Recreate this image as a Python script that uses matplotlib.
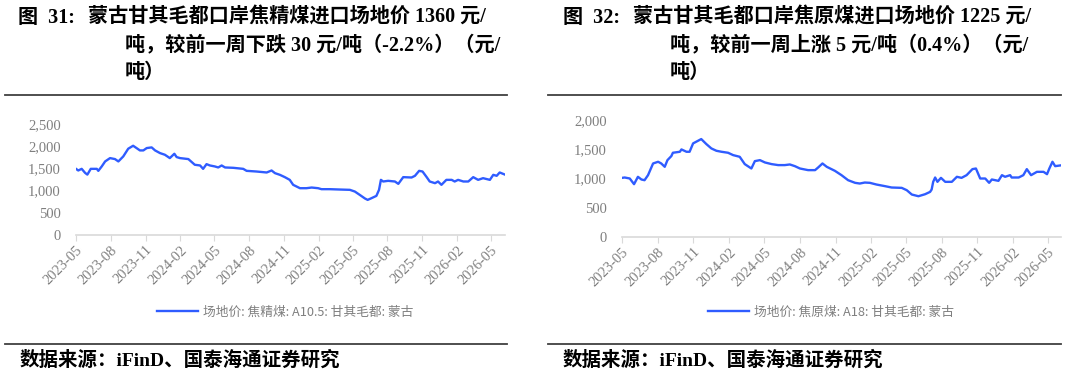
import pandas as pd
import matplotlib.pyplot as plt
import matplotlib.dates as mdates
from matplotlib.lines import Line2D
from matplotlib.ticker import FuncFormatter

plt.rcParams['font.family'] = ['Liberation Serif', 'Noto Sans CJK SC']

# 焦精煤 A10.5 (left panel)
coking_dates = [
    "2023-05-01", "2023-05-07", "2023-05-16", "2023-05-25", "2023-05-31", "2023-06-09",
    "2023-06-25", "2023-06-29", "2023-07-08", "2023-07-17", "2023-07-30", "2023-08-12",
    "2023-08-21", "2023-09-03", "2023-09-16", "2023-09-29", "2023-10-08", "2023-10-17",
    "2023-10-26", "2023-11-04", "2023-11-17", "2023-11-26", "2023-12-09", "2023-12-22",
    "2024-01-04", "2024-01-16", "2024-01-22", "2024-01-31", "2024-02-22", "2024-03-10",
    "2024-03-24", "2024-04-01", "2024-04-10", "2024-04-19", "2024-05-02", "2024-05-11",
    "2024-05-20", "2024-05-29", "2024-06-20", "2024-07-16", "2024-07-25", "2024-08-20",
    "2024-09-16", "2024-09-29", "2024-10-08", "2024-10-21", "2024-11-03", "2024-11-16",
    "2024-11-25", "2024-12-13", "2024-12-30", "2025-01-13", "2025-01-30", "2025-02-08",
    "2025-03-02", "2025-03-29", "2025-04-24", "2025-05-07", "2025-05-20", "2025-06-03",
    "2025-06-10", "2025-06-20", "2025-07-03", "2025-07-10", "2025-07-15", "2025-07-21",
    "2025-08-03", "2025-08-21", "2025-08-30", "2025-09-12", "2025-10-04", "2025-10-13",
    "2025-10-24", "2025-11-02", "2025-11-13", "2025-11-21", "2025-12-05", "2025-12-13",
    "2025-12-22", "2026-01-04", "2026-01-18", "2026-01-26", "2026-02-04", "2026-02-18",
    "2026-03-03", "2026-03-16", "2026-03-29", "2026-04-11", "2026-04-29", "2026-05-08",
    "2026-05-17", "2026-05-25", "2026-06-08",
]
coking_price = [
    1490, 1453, 1490, 1400, 1360, 1490,
    1490, 1445, 1544, 1657, 1732, 1710,
    1657, 1770, 1943, 2010, 1958, 1905,
    1905, 1958, 1973, 1905, 1845, 1807,
    1732, 1830, 1755, 1732, 1710, 1582,
    1566, 1490, 1596, 1566, 1544, 1521,
    1566, 1521, 1513, 1490, 1445, 1430,
    1408, 1453, 1393, 1355, 1303, 1242,
    1130, 1054, 1054, 1069, 1054, 1032,
    1032, 1024, 1017, 979, 904, 821,
    791, 829, 881, 1017, 1242, 1205,
    1220, 1205, 1152, 1303, 1295, 1333,
    1445, 1430, 1303, 1205, 1167, 1205,
    1130, 1242, 1242, 1205, 1242, 1205,
    1205, 1303, 1242, 1280, 1242, 1355,
    1333, 1408, 1360,
]

# 焦原煤 A18 (right panel)
raw_dates = [
    "2023-05-01", "2023-05-08", "2023-05-21", "2023-06-01", "2023-06-11", "2023-06-20",
    "2023-06-28", "2023-07-07", "2023-07-20", "2023-08-02", "2023-08-10", "2023-08-19",
    "2023-08-26", "2023-09-05", "2023-09-09", "2023-09-27", "2023-10-01", "2023-10-14",
    "2023-10-22", "2023-10-31", "2023-11-13", "2023-11-21", "2023-12-04", "2023-12-17",
    "2023-12-30", "2024-01-12", "2024-01-29", "2024-02-11", "2024-02-28", "2024-03-12",
    "2024-03-29", "2024-04-07", "2024-04-20", "2024-05-03", "2024-05-20", "2024-06-06",
    "2024-06-23", "2024-07-06", "2024-07-19", "2024-08-01", "2024-08-22", "2024-09-09",
    "2024-09-17", "2024-09-28", "2024-10-09", "2024-10-30", "2024-11-16", "2024-12-03",
    "2024-12-21", "2025-01-02", "2025-01-15", "2025-01-28", "2025-02-14", "2025-03-08",
    "2025-03-25", "2025-04-20", "2025-05-03", "2025-05-16", "2025-06-02", "2025-06-19",
    "2025-07-02", "2025-07-06", "2025-07-10", "2025-07-15", "2025-07-21", "2025-07-30",
    "2025-08-10", "2025-08-27", "2025-09-09", "2025-09-21", "2025-10-04", "2025-10-19",
    "2025-10-28", "2025-11-08", "2025-11-21", "2025-12-01", "2025-12-08", "2025-12-25",
    "2026-01-03", "2026-01-11", "2026-01-24", "2026-01-28", "2026-02-15", "2026-02-27",
    "2026-03-08", "2026-03-19", "2026-04-03", "2026-04-20", "2026-04-29", "2026-05-05",
    "2026-05-13", "2026-05-20", "2026-06-04",
]
raw_price = [
    1011, 1017, 1000, 903, 1029, 983,
    971, 1057, 1257, 1286, 1257, 1200,
    1314, 1383, 1440, 1457, 1497, 1457,
    1457, 1600, 1646, 1674, 1589, 1514,
    1474, 1457, 1440, 1400, 1371, 1246,
    1171, 1297, 1314, 1274, 1246, 1229,
    1229, 1240, 1211, 1171, 1143, 1143,
    1189, 1257, 1200, 1131, 1057, 971,
    926, 914, 931, 926, 897, 869,
    846, 840, 800, 726, 697, 731,
    771, 811, 943, 1017, 943, 1011,
    943, 943, 1029, 1011, 1057, 1160,
    1171, 1000, 1000, 926, 983, 960,
    1057, 1029, 1057, 1017, 1017, 1057,
    1160, 1057, 1114, 1114, 1074, 1171,
    1286, 1211, 1225,
]

titles = [
    ["蒙古甘其毛都口岸焦精煤进口场地价 1360 元/", "吨，较前一周下跌 30 元/吨（-2.2%）（元/", "吨）"],
    ["蒙古甘其毛都口岸焦原煤进口场地价 1225 元/", "吨，较前一周上涨 5 元/吨（0.4%）（元/", "吨）"],
]
fig_numbers = ["图  31:", "图  32:"]
legend_labels = ["场地价: 焦精煤: A10.5: 甘其毛都: 蒙古", "场地价: 焦原煤: A18: 甘其毛都: 蒙古"]
y_max = [2500, 2000]

W, H = 1088, 377
fig = plt.figure(figsize=(W / 100, H / 100), dpi=100)
line_color = "#2f5cff"
gray = "#7f7f7f"

axes_px = [(76, 505, 124, 235), (622, 1061, 120, 237)]  # x0, x1, ytop, ybottom
panel_x = [(5, 507), (548, 1061)]
fig_no_x = [18, 563]
title_x = [(88, 125), (633, 670)]
legend_center = [(285, 312), (831, 312)]
series = [(coking_dates, coking_price), (raw_dates, raw_price)]

for i in range(2):
    x0, x1, yt, yb = axes_px[i]
    ax = fig.add_axes([x0 / W, 1 - yb / H, (x1 - x0) / W, (yb - yt) / H])
    d, v = series[i]
    dates = pd.to_datetime(d)
    ax.plot(dates, v, color=line_color, lw=1.7)
    ax.set_xlim(dates[0], dates[-1])
    ax.set_ylim(0, y_max[i])
    ax.set_yticks(range(0, y_max[i] + 1, 500))
    ax.yaxis.set_major_formatter(FuncFormatter(lambda val, p: f"{val:,.0f}"))
    ax.xaxis.set_major_locator(mdates.MonthLocator(bymonth=[2, 5, 8, 11]))
    ax.xaxis.set_major_formatter(mdates.DateFormatter("%Y-%m"))
    for s in ["top", "right", "left"]:
        ax.spines[s].set_visible(False)
    ax.spines["bottom"].set_color("#d9d9d9")
    ax.spines["bottom"].set_linewidth(1.2)
    ax.tick_params(axis="y", length=0, pad=11, labelsize=10.5, labelcolor=gray)
    ax.tick_params(axis="x", length=4, color="#d9d9d9", pad=2, labelsize=10.5, labelcolor=gray)
    plt.setp(ax.get_xticklabels(), rotation=45, ha="right", rotation_mode="anchor")

    # legend
    lx, ly = legend_center[i]
    handle = Line2D([], [], color=line_color, lw=1.7)
    fig.legend([handle], [legend_labels[i]], loc="center",
               bbox_to_anchor=(lx / W, 1 - ly / H), frameon=False,
               prop={"family": "Noto Sans CJK SC", "size": 9.2},
               labelcolor=gray, handlelength=3.2, handletextpad=0.4)

    # title block
    fig.text(fig_no_x[i] / W, 1 - 18 / H, fig_numbers[i], fontsize=14.5, fontweight="bold",
             va="center", ha="left")
    tx1, tx2 = title_x[i]
    fig.text(tx1 / W, 1 - 18 / H, titles[i][0], fontsize=14.5, fontweight="bold",
             va="center", ha="left")
    fig.text(tx2 / W, 1 - 45 / H, titles[i][1], fontsize=14.5, fontweight="bold",
             va="center", ha="left")
    fig.text(tx2 / W, 1 - 73 / H, titles[i][2], fontsize=14.5, fontweight="bold",
             va="center", ha="left")

    # rules
    px0, px1 = panel_x[i]
    for yy in (95, 344):
        fig.add_artist(Line2D([px0 / W, px1 / W], [1 - yy / H, 1 - yy / H],
                              color="#404040", lw=1.3))

    fig.text((px0 + 15) / W, 1 - 360 / H, "数据来源：iFinD、国泰海通证券研究", fontsize=14,
             fontweight="bold", va="center", ha="left")

fig.savefig("out.png", dpi=100)
